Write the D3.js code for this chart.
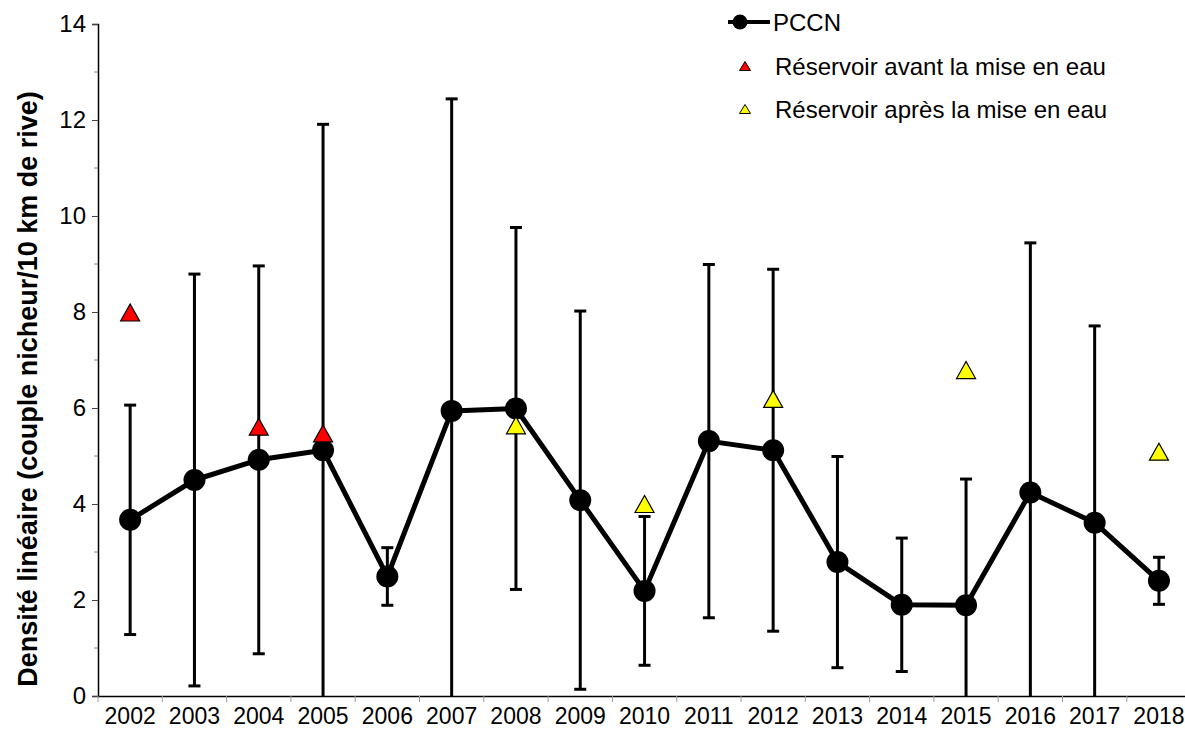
<!DOCTYPE html>
<html>
<head>
<meta charset="utf-8">
<script src="https://cdn.jsdelivr.net/npm/d3@7"></script>
<style>
  html, body { margin: 0; padding: 0; background: #fff; }
  svg { display: block; font-family: "Liberation Sans", Arial, sans-serif; }
</style>
</head>
<body>
<svg id="chart" width="1185" height="734"></svg>
<script>
// Survey years
const years = ["2002","2003","2004","2005","2006","2007","2008","2009","2010",
               "2011","2012","2013","2014","2015","2016","2017","2018"];

// PCCN mean linear density and the half-width of its error bar
const pccn    = [3.67, 4.50, 4.92, 5.12, 2.49, 5.94, 5.99, 4.08, 2.19,
                 5.31, 5.12, 2.79, 1.90, 1.89, 4.24, 3.61, 2.40];
const pccnErr = [2.39, 4.29, 4.04, 6.79, 0.60, 6.50, 3.77, 3.94, 1.55,
                 3.68, 3.77, 2.20, 1.39, 2.63, 5.20, 4.10, 0.49];

// Reservoir density, before and after impoundment
const avantYears = ["2002","2004","2005"];
const avantVals  = [7.99, 5.61, 5.47];
const apresYears = ["2008","2010","2012","2015","2018"];
const apresVals  = [5.64, 4.00, 6.19, 6.79, 5.09];

const yTicks = [0, 2, 4, 6, 8, 10, 12, 14];

const svg = d3.select("#chart");
const plotLeft = 98, plotTop = 24, plotBottom = 696, band = 64.3;

const x = d3.scaleBand().domain(years).range([plotLeft, plotLeft + band * years.length]).padding(0);
const cx = d => x(d) + x.bandwidth() / 2;
const y = d3.scaleLinear().domain([0, 14]).range([plotBottom, plotTop]);

svg.append("defs").append("clipPath").attr("id", "plot")
  .append("rect").attr("x", plotLeft).attr("y", plotTop)
  .attr("width", band * years.length).attr("height", plotBottom - plotTop);

// Y axis: minor ticks on odd values, major ticks with labels on even values
const minor = d3.range(1, 14, 2);
svg.append("g").selectAll("line").data(minor).join("line")
  .attr("x1", plotLeft - 4).attr("x2", plotLeft).attr("y1", d => y(d)).attr("y2", d => y(d))
  .attr("stroke", "#888").attr("stroke-width", 1);

const yAxis = svg.append("g").attr("transform", `translate(${plotLeft},0)`)
  .call(d3.axisLeft(y).tickValues(yTicks).tickSize(6).tickPadding(6));
yAxis.select(".domain").attr("stroke", "#000").attr("stroke-width", 1.5);
yAxis.selectAll(".tick line").attr("stroke", "#444").attr("stroke-width", 1);
yAxis.selectAll(".tick text").attr("font-size", 24).attr("fill", "#000")
  .attr("font-family", "Liberation Sans, Arial, sans-serif");

// X axis: labels at category centres, ticks on category boundaries
const xAxis = svg.append("g").attr("transform", `translate(0,${plotBottom})`)
  .call(d3.axisBottom(x).tickSize(0).tickPadding(12));
xAxis.select(".domain").attr("stroke", "#000").attr("stroke-width", 1.5);
xAxis.selectAll(".tick text").attr("font-size", 23).attr("fill", "#000")
  .attr("font-family", "Liberation Sans, Arial, sans-serif");
const bounds = years.map(d => x(d)).concat([x.range()[1]]);
svg.append("g").selectAll("line").data(bounds).join("line")
  .attr("x1", d => d).attr("x2", d => d)
  .attr("y1", plotBottom).attr("y2", plotBottom + 6)
  .attr("stroke", "#999").attr("stroke-width", 1);

// Y axis title
svg.append("text")
  .attr("transform", `translate(37,${(plotTop + plotBottom) / 2 + 29}) rotate(-90)`)
  .attr("text-anchor", "middle")
  .attr("font-size", 27).attr("font-weight", "bold")
  .text("Densité linéaire (couple nicheur/10 km de rive)");

const plot = svg.append("g").attr("clip-path", "url(#plot)");

// Error bars
const eb = plot.append("g").attr("stroke", "#000").attr("stroke-width", 3);
years.forEach((yr, i) => {
  const lo = pccn[i] - pccnErr[i], hi = pccn[i] + pccnErr[i];
  eb.append("line").attr("x1", cx(yr)).attr("x2", cx(yr))
    .attr("y1", y(lo)).attr("y2", y(hi));
  [lo, hi].forEach(v => {
    eb.append("line").attr("x1", cx(yr) - 6).attr("x2", cx(yr) + 6)
      .attr("y1", y(v)).attr("y2", y(v));
  });
});

// PCCN line and markers
plot.append("path").datum(years)
  .attr("fill", "none").attr("stroke", "#000").attr("stroke-width", 5)
  .attr("stroke-linejoin", "round")
  .attr("d", d3.line().x(d => cx(d)).y((d, i) => y(pccn[i])));
plot.append("g").selectAll("circle").data(years).join("circle")
  .attr("cx", d => cx(d)).attr("cy", (d, i) => y(pccn[i])).attr("r", 11)
  .attr("fill", "#000");

// Triangle marker centred on its bounding box
const tri = (w, h) => `M0,${-h / 2}L${w / 2},${h / 2}L${-w / 2},${h / 2}Z`;

plot.append("g").selectAll("path").data(avantYears).join("path")
  .attr("transform", (d, i) => `translate(${cx(d)},${y(avantVals[i])})`)
  .attr("d", tri(19, 17)).attr("fill", "#ff0000")
  .attr("stroke", "#000").attr("stroke-width", 1.2);
plot.append("g").selectAll("path").data(apresYears).join("path")
  .attr("transform", (d, i) => `translate(${cx(d)},${y(apresVals[i])})`)
  .attr("d", tri(19, 17)).attr("fill", "#ffff00")
  .attr("stroke", "#000").attr("stroke-width", 1.2);

// Legend
const lg = svg.append("g");
lg.append("line").attr("x1", 728).attr("x2", 770).attr("y1", 22).attr("y2", 22)
  .attr("stroke", "#000").attr("stroke-width", 4);
lg.append("circle").attr("cx", 740).attr("cy", 22).attr("r", 7.5).attr("fill", "#000");
lg.append("text").attr("x", 773).attr("y", 30.5).attr("font-size", 24).text("PCCN");

lg.append("path").attr("transform", "translate(745,66)").attr("d", tri(11, 9))
  .attr("fill", "#ff0000").attr("stroke", "#000").attr("stroke-width", 1);
lg.append("text").attr("x", 775).attr("y", 75).attr("font-size", 24)
  .text("Réservoir avant la mise en eau");

lg.append("path").attr("transform", "translate(745,109)").attr("d", tri(11, 9))
  .attr("fill", "#ffff00").attr("stroke", "#000").attr("stroke-width", 1);
lg.append("text").attr("x", 775).attr("y", 118).attr("font-size", 24)
  .text("Réservoir après la mise en eau");
</script>
</body>
</html>
